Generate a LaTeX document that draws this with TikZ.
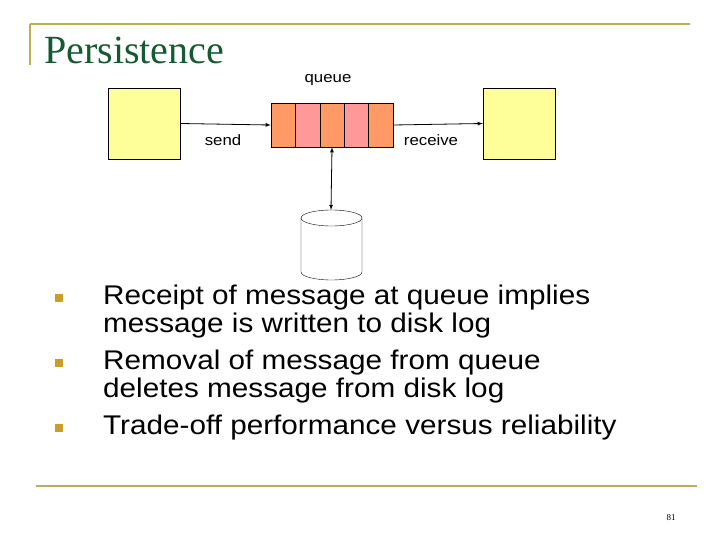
\documentclass[tikz,border=0pt]{standalone}
\usepackage{fontspec}
\setmainfont{Liberation Sans}
\newfontfamily\seriff{Liberation Serif}
\newfontfamily\widelbl[FakeStretch=1.12]{Liberation Sans}
\newfontfamily\widebul[FakeStretch=1.1]{Liberation Sans}
\begin{document}
\begin{tikzpicture}[x=1pt,y=-1pt,
  rule/.style={draw=gold,line width=1.5pt},
  proc/.style={draw=black,fill=procy,minimum width=72pt,minimum height=71pt,inner sep=0pt},
  cell/.style={draw=black,minimum width=24.4pt,minimum height=44pt,inner sep=0pt},
  lbl/.style={font=\widelbl\fontsize{15}{17}\selectfont},
  bul/.style={fill=bulc,minimum size=8pt,inner sep=0pt},
  btxt/.style={anchor=west,font=\widebul\fontsize{27}{28}\selectfont,align=left,inner sep=0pt},
  arr/.style={-latex,line width=0.8pt}]
\definecolor{gold}{RGB}{190,175,80}
\definecolor{procy}{RGB}{255,255,153}
\definecolor{orng}{RGB}{255,153,102}
\definecolor{pnk}{RGB}{255,153,153}
\definecolor{bulc}{RGB}{200,160,40}
\definecolor{ttl}{RGB}{20,90,50}
\useasboundingbox (0,0) rectangle (720,540);
\draw[rule] (30,24) -- (690,24);
\draw[rule] (30,24) -- (30,65);
\node[anchor=base west,inner sep=0pt,text=ttl,font=\seriff\fontsize{40}{42}\selectfont] (title) at (44,64) {Persistence};
\node[proc] (snd) at (144,123.5) {};
\node[proc] (rcv) at (519,123.5) {};
\foreach \i/\c in {0/orng,1/pnk,2/orng,3/pnk,4/orng}
  \node[cell,fill=\c] (c\i) at (283.2+\i*24.4,125) {};
\node[draw=black,minimum width=122pt,minimum height=44pt,inner sep=0pt] (q) at (332,125) {};
\node[lbl] (ql) at (328,80) {queue};
\node[lbl] (sl) at (223,140) {send};
\node[lbl] (rl) at (431,140) {receive};
\draw[arr] (snd.east) -- (q.west);
\draw[arr] (q.east) -- (rcv.west);
\coordinate (dtop) at (331,210);
\draw[latex-latex,line width=0.8pt] (q.south) -- (dtop);
\draw[fill=white] (301,218) -- (301,272) arc[start angle=180,end angle=0,x radius=30.5,y radius=8] -- (362,218);
\draw[fill=white] (331.5,218) ellipse[x radius=30.5,y radius=8];
\node[bul] (b1) at (59,298) {};
\node[bul] (b2) at (59,363) {};
\node[bul] (b3) at (59,428) {};
\node[btxt] (t1) at (103,312) {Receipt of message at queue implies\\message is written to disk log};
\node[btxt] (t2) at (103,377) {Removal of message from queue\\deletes message from disk log};
\node[btxt] (t3) at (103,428) {Trade-off performance versus reliability};
\draw[rule] (36,486) -- (697,486);
\node[font=\seriff\fontsize{9}{10}\selectfont] (pg) at (671,518) {81};
\end{tikzpicture}
\end{document}
